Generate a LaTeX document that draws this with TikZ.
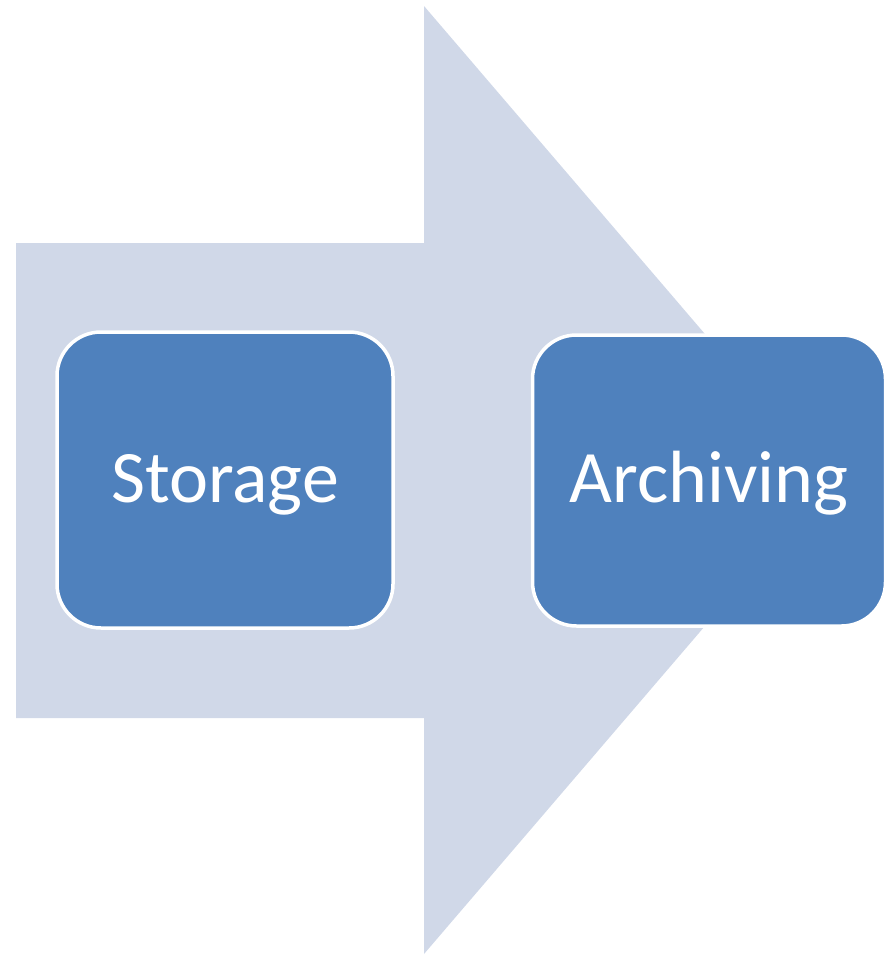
\documentclass[tikz,border=0pt]{standalone}
\usepackage{fontspec}
\setmainfont{Carlito}
\definecolor{arrowfill}{HTML}{D0D8E8}
\definecolor{boxfill}{HTML}{4F81BD}
\begin{document}
\begin{tikzpicture}[x=1pt,y=-1pt,
  stepbox/.style={draw=white,line width=3.5pt,fill=boxfill,rounded corners=44pt,
    minimum width=#1,inner sep=0pt,text=white,text height=44pt,text depth=0pt,
    font=\fontsize{74}{80}\selectfont},
]
\useasboundingbox (0,0) rectangle (892,956);
\fill[arrowfill] (16,243) -- (424,243) -- (424,6) -- (830,480) -- (424,954) -- (424,718) -- (16,718) -- cycle;
\node[stepbox=336pt,minimum height=296pt] (storage) at (225,480) {Storage};
\node[stepbox=353pt,minimum height=291pt] (archiving) at (709,480.5) {Archiving};
\end{tikzpicture}
\end{document}
